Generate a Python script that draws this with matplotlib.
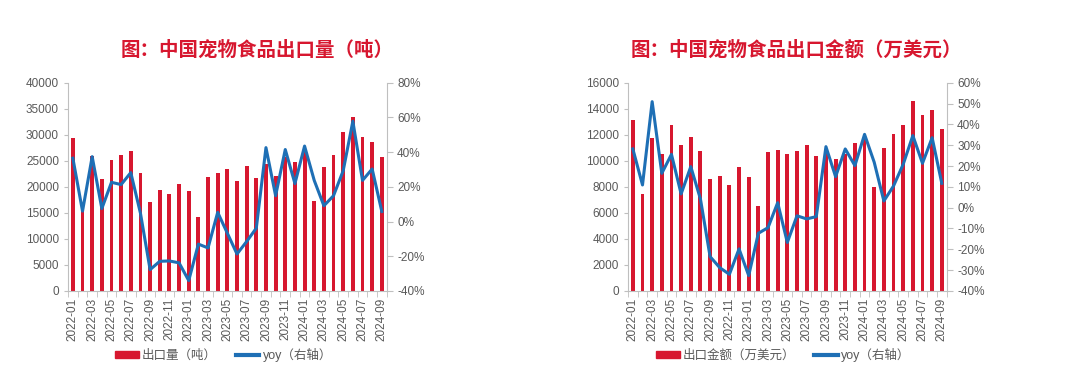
import matplotlib.pyplot as plt
import matplotlib.patches as mpatches
import matplotlib.lines as mlines
from matplotlib.ticker import FuncFormatter, MultipleLocator
import numpy as np

plt.rcParams['font.family'] = ['Liberation Sans', 'Noto Sans CJK SC']
plt.rcParams['axes.unicode_minus'] = False

months = ['2022-01', '2022-02', '2022-03', '2022-04', '2022-05', '2022-06', '2022-07', '2022-08',
          '2022-09', '2022-10', '2022-11', '2022-12', '2023-01', '2023-02', '2023-03', '2023-04',
          '2023-05', '2023-06', '2023-07', '2023-08', '2023-09', '2023-10', '2023-11', '2023-12',
          '2024-01', '2024-02', '2024-03', '2024-04', '2024-05', '2024-06', '2024-07', '2024-08',
          '2024-09']

# 出口量（吨）
volume = [29400, 15300, 25900, 21500, 25150, 26100, 26900, 22600, 17000, 19350, 18600, 20500,
          19250, 14150, 21950, 22700, 23350, 21200, 24050, 21750, 24300, 22150, 25800, 24850,
          26750, 17350, 23850, 26100, 30600, 33450, 29650, 28550, 25650]
volume_yoy = [36.5, 6.0, 37.4, 7.5, 22.6, 21.3, 28.2, 4.8, -27.7, -22.9, -22.7, -23.8,
              -34.0, -13.0, -15.2, 5.3, -6.7, -18.7, -11.5, -3.8, 42.6, 14.9, 41.5, 21.9,
              43.5, 23.7, 9.1, 14.9, 29.3, 57.8, 23.7, 30.3, 5.8]

# 出口金额（万美元）
value = [13150, 7440, 11780, 10510, 12750, 11200, 11810, 10770, 8610, 8830, 8110, 9510,
         8790, 6530, 10650, 10830, 10520, 10790, 11200, 10390, 10650, 10110, 10500, 11370,
         11850, 7960, 10960, 12030, 12750, 14590, 13520, 13900, 12420]
value_yoy = [28.2, 10.9, 50.9, 16.5, 25.6, 6.6, 19.7, 4.2, -23.5, -28.8, -32.0, -19.8,
             -32.6, -12.3, -9.6, 2.4, -16.7, -3.9, -5.4, -4.3, 29.3, 14.9, 28.2, 20.2,
             35.2, 21.8, 3.2, 10.4, 20.8, 34.6, 21.3, 33.6, 11.7]

RED = '#D7172F'
BLUE = '#1E6FB5'
GREY = '#595959'
AXIS = '#BFBFBF'


def draw_panel(rect, bars, yoy, ymax, ystep, ylo, yhi, title, title_x, bar_label, legend_x):
    x = np.arange(len(months))
    ax = fig.add_axes(rect)
    ax.bar(x, bars, width=0.4, color=RED, zorder=2)
    ax.set_xlim(-0.5, len(months) - 0.5)
    ax.set_ylim(0, ymax)
    ax.yaxis.set_major_locator(MultipleLocator(ystep))
    ax.set_xticks(x[::2])
    ax.set_xticklabels(months[::2], rotation=90)
    ax.set_xticks(np.arange(-0.5, len(months), 1), minor=True)
    ax.tick_params(axis='x', which='major', length=0, pad=5, labelsize=8.5, labelcolor=GREY)
    ax.tick_params(axis='x', which='minor', length=4, color=AXIS, direction='out')
    ax.tick_params(axis='y', length=3, color=AXIS, labelsize=8.5, labelcolor=GREY)
    for side in ['top', 'right']:
        ax.spines[side].set_visible(False)
    for side in ['left', 'bottom']:
        ax.spines[side].set_color(AXIS)

    ax2 = ax.twinx()
    ax2.plot(x, yoy, color=BLUE, linewidth=2.2, zorder=3)
    ax2.set_ylim(ylo, yhi)
    ax2.yaxis.set_major_locator(MultipleLocator(20 if yhi == 80 else 10))
    ax2.yaxis.set_major_formatter(FuncFormatter(lambda v, p: '%d%%' % round(v)))
    ax2.tick_params(axis='y', length=4, color=AXIS, labelsize=8.5, labelcolor=GREY)
    for side in ['top', 'left', 'bottom']:
        ax2.spines[side].set_visible(False)
    ax2.spines['right'].set_color(AXIS)

    fig.text(title_x, 0.862, title, ha='center', va='center', color=RED, fontsize=14,
             fontweight='bold', family=['Noto Sans CJK SC'])

    handles = [mpatches.Patch(color=RED, label=bar_label),
               mlines.Line2D([], [], color=BLUE, linewidth=3, label='yoy（右轴）')]
    fig.legend(handles=handles, loc='center', bbox_to_anchor=(legend_x, 0.03), ncol=2,
               frameon=False, fontsize=9, handlelength=1.9, handleheight=0.55,
               columnspacing=1.5, handletextpad=0.25, labelcolor=GREY)


fig = plt.figure(figsize=(10.8, 3.66), dpi=100)

draw_panel([0.063, 0.205, 0.295, 0.569], volume, volume_yoy, 40000, 5000, -40, 80,
           '图：中国宠物食品出口量（吨）', 0.238, '出口量（吨）', 0.207)
draw_panel([0.5815, 0.205, 0.295, 0.569], value, value_yoy, 16000, 2000, -40, 60,
           '图：中国宠物食品出口金额（万美元）', 0.737, '出口金额（万美元）', 0.725)

plt.savefig('out.png', dpi=100)
